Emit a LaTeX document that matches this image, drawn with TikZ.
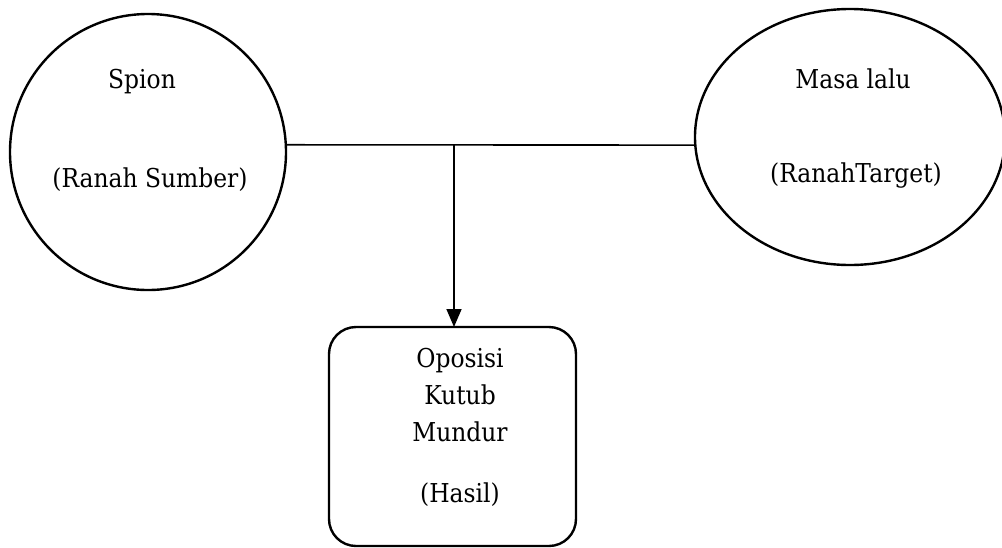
\documentclass[tikz,border=0pt]{standalone}
\usepackage{fontspec}
\setmainfont{DejaVu Serif}[FakeStretch=0.9]
\usetikzlibrary{shapes.geometric,arrows.meta}
\begin{document}
\begin{tikzpicture}[x=1pt,y=-1pt,
  shapeline/.style={draw=black,line width=2.4pt,inner sep=0pt,outer sep=0pt},
  domainshape/.style={shapeline,ellipse},
  resultbox/.style={shapeline,rectangle,rounded corners=27pt},
  lbl/.style={anchor=base,inner sep=0pt,font=\fontsize{26}{30}\selectfont},
  conn/.style={draw=black,line width=1.6pt}]
\useasboundingbox (0,0) rectangle (1002,547);
\node[domainshape,minimum width=276pt,minimum height=276pt] (src) at (148,152) {};
\node[domainshape,minimum width=310pt,minimum height=256pt] (tgt) at (850,137) {};
\node[resultbox,minimum width=247pt,minimum height=219pt] (res) at (452.5,436.5) {};
\node[lbl] (t1) at (142,88) {Spion};
\node[lbl] (t2) at (150,187) {(Ranah Sumber)};
\node[lbl] (t3) at (853,88) {Masa lalu};
\node[lbl] (t4) at (856,182) {(RanahTarget)};
\node[lbl] (t5) at (460,367) {Oposisi};
\node[lbl] (t6) at (460,404) {Kutub};
\node[lbl] (t7) at (460,441) {Mundur};
\node[lbl] (t8) at (460,502) {(Hasil)};
\coordinate (a) at (src.3.3);
\coordinate (b) at (tgt.183);
\coordinate (j) at (454,144);
\draw[conn] (a) -- (b);
\draw[conn,-{Triangle[length=18pt,width=15pt]}] (j) -- (j |- res.north);
\end{tikzpicture}
\end{document}
